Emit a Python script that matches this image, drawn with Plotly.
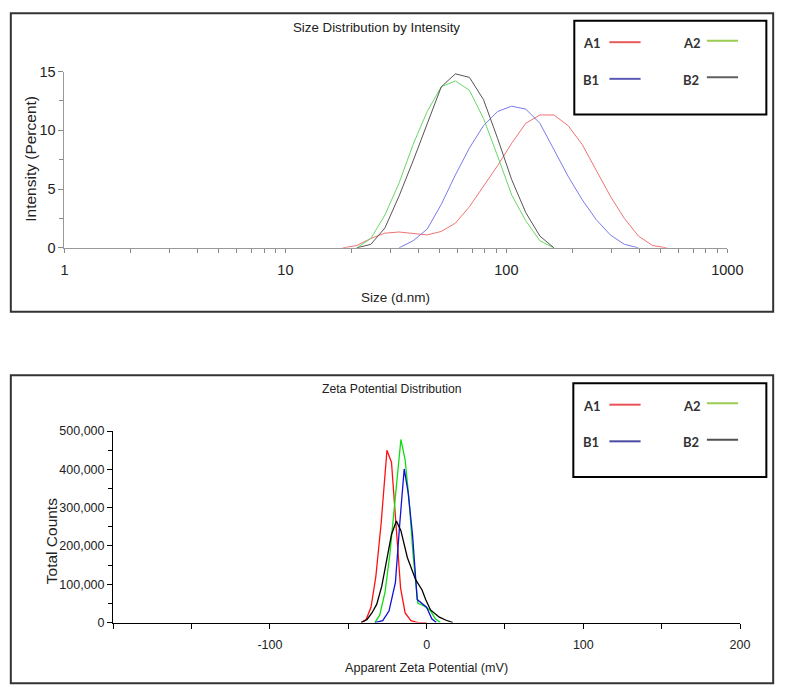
import plotly.graph_objects as go

W, H = 796, 697

# ---------------- Size distribution (top) ----------------
size_nm = [18.17, 21.04, 24.36, 28.21, 32.67, 37.84, 43.82, 50.75, 58.77, 68.06,
           78.82, 91.28, 105.7, 122.4, 141.8, 164.2, 190.1, 220.2, 255.0, 295.3,
           342.0, 396.1, 458.7, 531.2]
int_A1 = [0.0, 0.2, 0.8, 1.25, 1.35, 1.2, 1.1, 1.4, 2.1, 3.5, 5.2, 7.0, 8.9, 10.6,
          11.3, 11.3, 10.4, 8.8, 6.6, 4.4, 2.5, 1.0, 0.2, 0.0]
int_A2 = [None, 0.0, 0.8, 2.8, 5.5, 8.8, 11.6, 13.7, 14.2, 13.4, 11.0, 7.8, 4.5, 2.3,
          0.6, 0.0, None, None, None, None, None, None, None, None]
int_B1 = [None, None, None, None, 0.0, 0.6, 1.6, 3.7, 6.2, 8.5, 10.4, 11.6, 12.05,
          11.8, 10.6, 8.4, 6.1, 4.1, 2.4, 1.1, 0.3, 0.0, None, None]
int_B2 = [None, 0.0, 0.3, 1.7, 4.4, 7.4, 10.6, 13.7, 14.8, 14.5, 12.6, 9.3, 5.8, 3.0,
          1.0, 0.0, None, None, None, None, None, None, None, None]

size_tickvals = [1, 2, 3, 4, 5, 6, 7, 8, 9, 10, 20, 30, 40, 50, 60, 70, 80, 90,
                 100, 200, 300, 400, 500, 600, 700, 800, 900, 1000]
size_ticktext = ["1", "", "", "", "", "", "", "", "", "10", "", "", "", "", "", "",
                 "", "", "100", "", "", "", "", "", "", "", "", "1000"]
int_tickvals = [0, 5, 10, 15]

# ---------------- Zeta potential (bottom) ----------------
zeta_A1 = [-41.7, -38.6, -35.5, -32.4, -29.0, -25.3, -22.4, -19.5, -16.6, -13.7, -10.0, -5.6, 0.0]
cnt_A1 = [0, 8000, 40000, 120000, 260000, 450000, 418000, 250000, 90000, 25000, 5000, 0, 0]
zeta_A2 = [-33.0, -29.9, -26.5, -23.4, -19.9, -16.4, -13.7, -11.2, -8.7, -5.6, -1.9, 2.3, 5.6, 8.7]
cnt_A2 = [0, 20000, 80000, 180000, 330000, 478000, 425000, 320000, 180000, 50000, 44000, 32000, 10000, 0]
zeta_B1 = [-33.0, -28.0, -24.0, -19.9, -17.1, -14.3, -11.8, -9.0, -6.0, -3.7, 0.0, 3.3, 6.2]
cnt_B1 = [0, 5000, 30000, 105000, 260000, 401000, 340000, 230000, 60000, 52000, 40000, 10000, 0]
zeta_B2 = [-41.7, -38.0, -34.9, -31.8, -28.6, -25.5, -22.4, -19.3, -16.4, -12.3, -7.0, -2.9,
           -0.6, 2.5, 8.1, 12.5, 16.8]
cnt_B2 = [0, 8000, 25000, 48000, 95000, 165000, 230000, 265000, 240000, 170000, 112000,
          85000, 60000, 33000, 14000, 6000, 0]

zeta_tickvals = [-200, -150, -100, -50, 0, 50, 100, 150, 200]
zeta_ticktext = ["", "", "-100", "", "0", "", "100", "", "200"]
cnt_tickvals = [0, 100000, 200000, 300000, 400000, 500000]
cnt_ticktext = ["0", "100,000", "200,000", "300,000", "400,000", "500,000"]

series_names = ["A1", "A2", "B1", "B2"]
top_colors = ["#f07272", "#66d866", "#7a7aea", "#555555"]
bot_colors = ["#ff1010", "#10dd10", "#1010d8", "#000000"]
leg_top_colors = ["#e85a5a", "#9acd50", "#5a5ab4", "#606060"]
leg_bot_colors = ["#ea5058", "#9acd50", "#4a4aa0", "#505050"]

FONT = "Liberation Sans, Arial, sans-serif"
LEGFONT = "Lato, Open Sans, sans-serif"

fig = go.Figure()

top_y = [int_A1, int_A2, int_B1, int_B2]
for name, ys, c in zip(series_names, top_y, top_colors):
    fig.add_trace(go.Scatter(x=size_nm, y=ys, mode="lines", name=name,
                             line=dict(color=c, width=1), xaxis="x", yaxis="y",
                             connectgaps=False, showlegend=False))

bot_x = [zeta_A1, zeta_A2, zeta_B1, zeta_B2]
bot_y = [cnt_A1, cnt_A2, cnt_B1, cnt_B2]
for name, xs, ys, c in zip(series_names, bot_x, bot_y, bot_colors):
    fig.add_trace(go.Scatter(x=xs, y=ys, mode="lines", name=name,
                             line=dict(color=c, width=1.3), xaxis="x2", yaxis="y2",
                             showlegend=False))

def px(x):
    return x / W

def py(y):
    return 1 - y / H

fig.update_layout(
    autosize=True,
    margin=dict(l=0, r=0, t=0, b=0),
    paper_bgcolor="white", plot_bgcolor="rgba(0,0,0,0)",
    font=dict(family=FONT, color="#222222"),
    showlegend=False,
    xaxis=dict(type="log", range=[0, 3], domain=[px(62), px(742)], anchor="y",
               tickvals=size_tickvals, ticktext=size_ticktext,
               ticks="outside", ticklen=4, tickcolor="#888888", tickwidth=1,
               ticklabelstandoff=5,
               showline=True, linecolor="#999999", linewidth=1,
               showgrid=False, zeroline=False,
               tickfont=dict(size=14.5, family=FONT, color="#222222")),
    yaxis=dict(range=[0, 15], domain=[py(245.5), py(65)], anchor="x",
               tickvals=int_tickvals, ticks="outside", ticklen=5,
               tickcolor="#888888", tickwidth=1,
               minor=dict(dtick=2.5, ticks="outside", ticklen=4, tickcolor="#888888"),
               showline=True, linecolor="#999999", linewidth=1,
               showgrid=False, zeroline=False,
               tickfont=dict(size=14.5, family=FONT, color="#222222")),
    xaxis2=dict(range=[-200, 200], domain=[px(112), px(755)], anchor="y2",
                tickvals=zeta_tickvals, ticktext=zeta_ticktext,
                ticks="outside", ticklen=5, tickcolor="#000000", tickwidth=1,
                ticklabelstandoff=5,
                showline=True, linecolor="#000000", linewidth=1.3,
                showgrid=False, zeroline=False,
                tickfont=dict(size=12.5, family=FONT, color="#222222")),
    yaxis2=dict(range=[0, 500000], domain=[py(629), py(433)], anchor="x2",
                tickvals=cnt_tickvals, ticktext=cnt_ticktext,
                ticks="outside", ticklen=5, tickcolor="#000000", tickwidth=1,
                minor=dict(dtick=50000, ticks="outside", ticklen=4, tickcolor="#000000"),
                showline=True, linecolor="#000000", linewidth=1.3,
                showgrid=False, zeroline=False,
                tickfont=dict(size=12.5, family=FONT, color="#222222")),
)

shapes = []
# outer frames
shapes.append(dict(type="rect", xref="paper", yref="paper",
                   x0=px(7), x1=px(789), y0=py(311), y1=py(5.5),
                   line=dict(color="#333333", width=2)))
shapes.append(dict(type="rect", xref="paper", yref="paper",
                   x0=px(7), x1=px(789), y0=py(691), y1=py(376),
                   line=dict(color="#333333", width=2)))
# legend boxes
shapes.append(dict(type="rect", xref="paper", yref="paper",
                   x0=px(585), x1=px(782), y0=py(109), y1=py(13),
                   line=dict(color="#000000", width=2)))
shapes.append(dict(type="rect", xref="paper", yref="paper",
                   x0=px(584), x1=px(782), y0=py(480), y1=py(384),
                   line=dict(color="#000000", width=2)))

annotations = []

def add_text(text, x, y, size, angle=0, color="#222222", xanchor="center"):
    annotations.append(dict(text=text,
                            x=px(x), y=py(y), xref="paper", yref="paper",
                            showarrow=False, textangle=angle, xanchor=xanchor,
                            yanchor="middle",
                            font=dict(size=size, family=FONT, color=color)))

# titles and axis titles
add_text("Size Distribution by Intensity", 382, 20, 13.3)
add_text("Size (d.nm)", 402, 296, 13.5)
add_text("Intensity (Percent)", 27, 154, 15.5, angle=-90)
add_text("Zeta Potential Distribution", 398, 390, 12.2)
add_text("Apparent Zeta Potential (mV)", 433, 676, 12.6)
add_text("Total Counts", 49, 546, 15.5, angle=-90)

# custom legends (label, then line sample)
def legend(top, colors):
    rows = [(top + 22, 0, 1), (top + 59.5, 2, 3)]
    for yy, i1, i2 in rows:
        for (xl, xs, idx) in [(592, 621, i1), (694, 721, i2)]:
            annotations.append(dict(text="<b>%s</b>" % series_names[idx],
                                    x=px(xl), y=py(yy + 1), xref="paper", yref="paper",
                                    showarrow=False, xanchor="left", yanchor="middle",
                                    font=dict(size=13, family=LEGFONT, color="#333333")))
            dy = 0 if idx in (0, 2) else -1.5
            shapes.append(dict(type="line", xref="paper", yref="paper",
                               x0=px(xs), x1=px(xs + 32), y0=py(yy + dy), y1=py(yy + dy),
                               line=dict(color=colors[idx], width=2)))

legend(13, leg_top_colors)
legend(384, leg_bot_colors)

fig.update_layout(shapes=shapes, annotations=annotations)

fig.write_html("out.html",
               config={"displayModeBar": False, "responsive": True},
               default_width="100vw",
               default_height="100vh; position:absolute; left:0px; top:0px")
